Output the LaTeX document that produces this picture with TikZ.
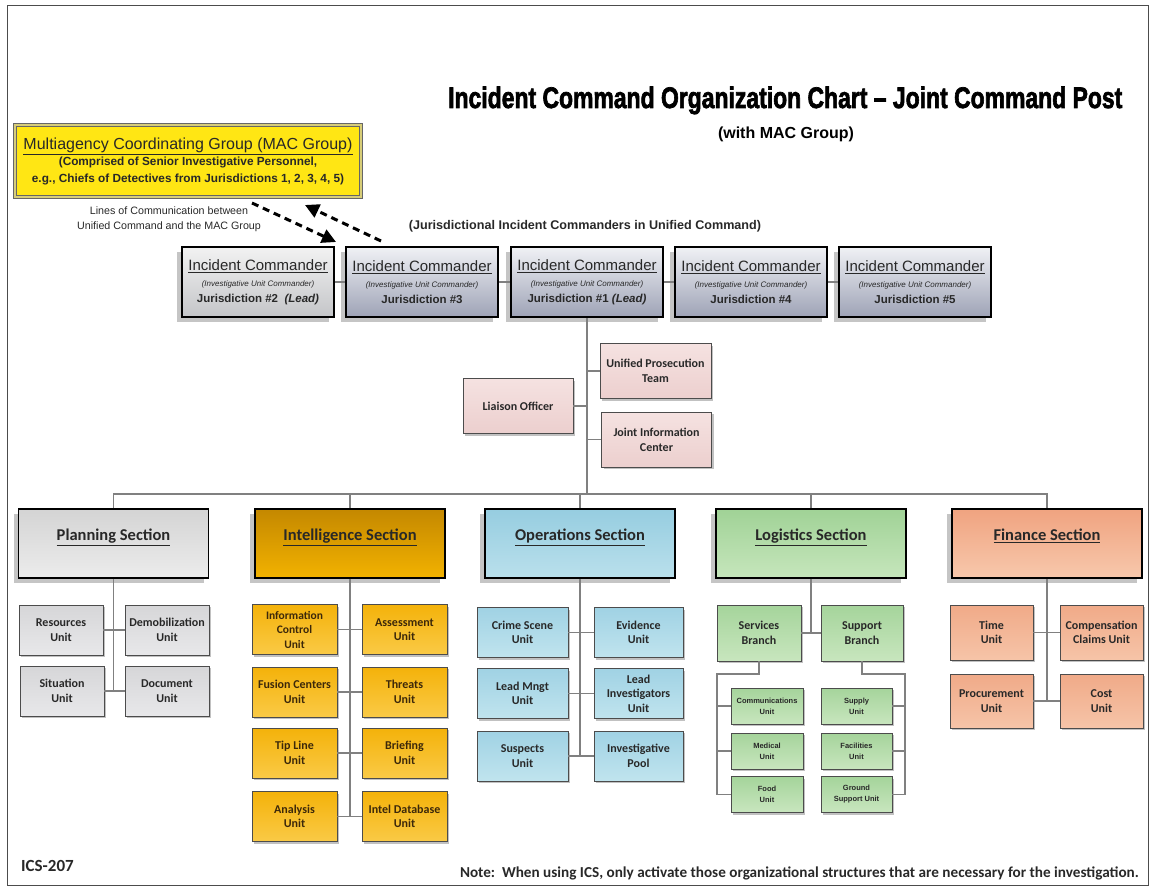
\documentclass[tikz,border=0pt]{standalone}
\usepackage{fontspec}
\setmainfont{Carlito}
\newfontfamily\arialf{Liberation Sans}
\newfontfamily\titlef{Liberation Sans}[BoldFeatures={FakeBold=2.5}]
\usetikzlibrary{arrows.meta,shadows}
\definecolor{icT}{RGB}{240,241,245}
\definecolor{icB}{RGB}{158,163,182}
\definecolor{icLT}{RGB}{242,242,242}
\definecolor{icLB}{RGB}{196,197,200}
\definecolor{macY}{RGB}{255,230,20}
\definecolor{macBand}{RGB}{215,205,120}
\definecolor{pinkT}{RGB}{245,226,225}
\definecolor{pinkB}{RGB}{236,207,206}
\definecolor{plT}{RGB}{212,212,212}
\definecolor{plB}{RGB}{236,236,236}
\definecolor{inT}{RGB}{196,136,0}
\definecolor{inB}{RGB}{242,178,0}
\definecolor{opT}{RGB}{150,205,224}
\definecolor{opB}{RGB}{186,224,236}
\definecolor{loT}{RGB}{160,210,150}
\definecolor{loB}{RGB}{198,230,188}
\definecolor{fiT}{RGB}{240,163,128}
\definecolor{fiB}{RGB}{247,200,172}
\definecolor{puT}{RGB}{214,214,216}
\definecolor{puB}{RGB}{232,232,234}
\definecolor{iuT}{RGB}{244,178,10}
\definecolor{iuB}{RGB}{250,202,70}
\definecolor{ouT}{RGB}{160,210,228}
\definecolor{ouB}{RGB}{192,228,238}
\definecolor{luT}{RGB}{165,212,155}
\definecolor{luB}{RGB}{200,230,190}
\definecolor{fuT}{RGB}{240,170,136}
\definecolor{fuB}{RGB}{246,196,168}
\definecolor{lineC}{RGB}{128,128,128}
\definecolor{txt}{RGB}{40,40,40}
\newcommand\ictext[2]{{\fontsize{15}{16}\selectfont\underline{Incident Commander}}\\{\fontsize{8}{16}\selectfont\itshape (Investigative Unit Commander)}\\{\bfseries Jurisdiction \##1#2}}
\begin{document}
\begin{tikzpicture}[x=1pt,y=-1pt,
  bigshadow/.style={drop shadow={shadow xshift=-5pt,shadow yshift=-5pt,fill=gray!65,opacity=.7}},
  smallshadow/.style={drop shadow={shadow xshift=2pt,shadow yshift=-2pt,fill=gray!70,opacity=.7}},
  ic/.style={rectangle,draw=black,line width=2.6pt,minimum width=152pt,minimum height=70pt,inner sep=0pt,align=center,top color=icT,bottom color=icB,bigshadow,font=\arialf\fontsize{11.5}{16}\selectfont,text=txt},
  sect/.style={rectangle,draw=black,line width=1.8pt,minimum width=190pt,minimum height=69pt,align=center,bigshadow,font=\bfseries\fontsize{16.5}{17}\selectfont,text=txt,text depth=17pt},
  unit/.style={rectangle,draw=black!70,line width=0.9pt,align=center,inner sep=1pt,smallshadow,font=\bfseries\fontsize{12}{14.5}\selectfont,text=txt},
  punit/.style={unit,top color=puT,bottom color=puB,minimum width=84pt,minimum height=50pt},
  iunit/.style={unit,top color=iuT,bottom color=iuB,minimum width=85pt,minimum height=50pt,text={rgb,255:red,60;green,40;blue,10}},
  ounit/.style={unit,top color=ouT,bottom color=ouB,minimum height=50pt},
  lunit/.style={unit,top color=luT,bottom color=luB},
  sunit/.style={lunit,font=\arialf\bfseries\fontsize{7.5}{11}\selectfont,minimum width=72pt,minimum height=36pt},
  funit/.style={unit,top color=fuT,bottom color=fuB,minimum width=83pt,minimum height=55pt},
  pinkbox/.style={unit,top color=pinkT,bottom color=pinkB,minimum width=110pt,minimum height=55pt,font=\bfseries\fontsize{12}{15}\selectfont},
  conn/.style={draw=lineC,line width=1.1pt},
  arr/.style={line width=3pt,dash pattern=on 7pt off 5pt,-{Triangle[length=14pt,width=14pt]}}
]
\useasboundingbox (0,0) rectangle (1151,888);
\draw[black!70,line width=1pt] (7,6) rectangle (1148,885);

% title
\node[anchor=base west,inner sep=0pt] (title) at (448,108) {\resizebox{674pt}{21.5pt}{\titlef\bfseries Incident Command Organization Chart – Joint Command Post}};
\node (sub) at (786,134) {\arialf\bfseries\fontsize{16}{18}\selectfont (with MAC Group)};

% MAC group
\node[rectangle,draw=black!60,line width=0.8pt,double=macBand,double distance=2pt,fill=macY,minimum width=346pt,minimum height=72pt,align=center,inner sep=0pt,font=\arialf\fontsize{11.8}{16.5}\selectfont,text=txt] (mac) at (188,161)
  {{\fontsize{16}{16.5}\selectfont\underline{Multiagency Coordinating Group (MAC Group)}}\\{\bfseries (Comprised of Senior Investigative Personnel,}\\{\bfseries e.g., Chiefs of Detectives from Jurisdictions 1, 2, 3, 4, 5)}};
\node[align=center,font=\arialf\fontsize{10.7}{15}\selectfont,text=txt] (lines) at (169,219) {Lines of Communication between\\Unified Command and the MAC Group};
\node[font=\arialf\bfseries\fontsize{12.6}{14}\selectfont,text=txt] (jur) at (585,226) {(Jurisdictional Incident Commanders in Unified Command)};

% incident commanders
\node[ic,top color=icLT,bottom color=icLB] (ic2) at (258,282) {\ictext{2}{\ \ \textit{(Lead)}}};
\node[ic] (ic3) at (422,282) {\ictext{3}{}};
\node[ic] (ic1) at (587,282) {\ictext{1}{ \textit{(Lead)}}};
\node[ic] (ic4) at (751,282) {\ictext{4}{}};
\node[ic] (ic5) at (915,282) {\ictext{5}{}};
\draw[conn] (ic2.east) -- (ic3.west);
\draw[conn] (ic3.east) -- (ic1.west);
\draw[conn] (ic1.east) -- (ic4.west);
\draw[conn] (ic4.east) -- (ic5.west);

% arrows
\coordinate (a1s) at (252,203); \coordinate (a1e) at (336,242);
\coordinate (a2s) at (381,241); \coordinate (a2e) at (305,205);
\draw[arr] (a1s) -- (a1e);
\draw[arr] (a2s) -- (a2e);

% command staff
\node[pinkbox,minimum width=111pt] (upt) at (655.5,371) {Unified Prosecution\\Team};
\node[pinkbox] (jic) at (656.5,439.5) {Joint Information\\Center};
\node[pinkbox] (lia) at (518,406) {Liaison Officer};
\coordinate (busC) at (587,494);
\draw[conn] (ic1.south) -- (busC);
\draw[conn] (upt.west) -- (upt.west -| busC);
\draw[conn] (jic.west) -- (jic.west -| busC);
\draw[conn] (lia.east) -- (lia.east -| busC);

% sections
\node[sect,top color=plT,bottom color=plB] (plan) at (113.5,543.5) {\underline{Planning Section}};
\node[sect,top color=inT,bottom color=inB] (intel) at (350,543.5) {\underline{Intelligence Section}};
\node[sect,top color=opT,bottom color=opB] (ops) at (580,543.5) {\underline{Operations Section}};
\node[sect,top color=loT,bottom color=loB] (logi) at (811,543.5) {\underline{Logistics Section}};
\node[sect,top color=fiT,bottom color=fiB] (fin) at (1047,543.5) {\underline{Finance Section}};
\draw[conn] (plan.north) |- (busC) -| (fin.north);
\draw[conn] (intel.north) -- (intel.north |- busC);
\draw[conn] (ops.north) -- (ops.north |- busC);
\draw[conn] (logi.north) -- (logi.north |- busC);

% planning units
\node[punit] (res) at (61,630) {Resources\\Unit};
\node[punit] (demob) at (167,630) {Demobilization\\Unit};
\node[punit] (sit) at (62,691) {Situation\\Unit};
\node[punit] (doc) at (167,691) {Document\\Unit};
\draw[conn] (plan.south) -- (plan.south |- sit.east);
\draw[conn] (res.east) -- (demob.west);
\draw[conn] (sit.east) -- (doc.west);

% intelligence units
\node[iunit,font=\bfseries\fontsize{11.5}{14.5}\selectfont] (info) at (294.5,629.5) {Information\\Control\\Unit};
\node[iunit] (assess) at (404.5,629.5) {Assessment\\Unit};
\node[iunit] (fusion) at (294.5,692) {Fusion Centers\\Unit};
\node[iunit] (threat) at (404.5,692) {Threats\\Unit};
\node[iunit] (tip) at (294.5,753) {Tip Line\\Unit};
\node[iunit] (brief) at (404.5,753) {Briefing\\Unit};
\node[iunit] (anal) at (294.5,816.5) {Analysis\\Unit};
\node[iunit] (idb) at (404.5,816.5) {Intel Database\\Unit};
\draw[conn] (intel.south) -- (intel.south |- anal.east);
\draw[conn] (info.east) -- (assess.west);
\draw[conn] (fusion.east) -- (threat.west);
\draw[conn] (tip.east) -- (brief.west);
\draw[conn] (anal.east) -- (idb.west);

% operations units
\node[ounit,minimum width=91pt] (crime) at (522.5,632.5) {Crime Scene\\Unit};
\node[ounit,minimum width=89pt] (evid) at (638.5,632.5) {Evidence\\Unit};
\node[ounit,minimum width=91pt] (leadm) at (522.5,693.5) {Lead Mngt\\Unit};
\node[ounit,minimum width=89pt] (leadi) at (638.5,693.5) {Lead\\Investigators\\Unit};
\node[ounit,minimum width=91pt] (susp) at (522.5,756) {Suspects\\Unit};
\node[ounit,minimum width=89pt] (pool) at (638.5,756) {Investigative\\Pool};
\draw[conn] (ops.south) -- (ops.south |- susp.east);
\draw[conn] (crime.east) -- (evid.west);
\draw[conn] (leadm.east) -- (leadi.west);
\draw[conn] (susp.east) -- (pool.west);

% logistics
\node[lunit,minimum width=84pt,minimum height=56pt] (svc) at (759,633) {Services\\Branch};
\node[lunit,minimum width=82pt,minimum height=56pt] (sup) at (862,633) {Support\\Branch};
\draw[conn] (logi.south) -- (logi.south |- svc.east);
\draw[conn] (svc.east) -- (sup.west);
\node[sunit] (comm) at (767,706) {Communications\\Unit};
\node[sunit] (med) at (767,751) {Medical\\Unit};
\node[sunit] (food) at (767,794.5) {Food\\Unit};
\node[sunit,minimum width=71pt] (supply) at (856.5,706) {Supply\\Unit};
\node[sunit,minimum width=71pt] (fac) at (856.5,751) {Facilities\\Unit};
\node[sunit,minimum width=71pt] (ground) at (856.5,794.5) {Ground\\Support Unit};
\coordinate (lrail) at (717,674);
\coordinate (rrail) at (905,674);
\draw[conn] (svc.south) |- (lrail) -- (lrail |- food.west) -- (food.west);
\draw[conn] (comm.west) -- (comm.west -| lrail);
\draw[conn] (med.west) -- (med.west -| lrail);
\draw[conn] (sup.south) |- (rrail) -- (rrail |- ground.east) -- (ground.east);
\draw[conn] (supply.east) -- (supply.east -| rrail);
\draw[conn] (fac.east) -- (fac.east -| rrail);

% finance
\node[funit] (time) at (991.5,632.5) {Time\\Unit};
\node[funit] (comp) at (1101.5,632.5) {Compensation\\Claims Unit};
\node[funit,minimum height=54pt] (proc) at (991.5,701) {Procurement\\Unit};
\node[funit,minimum height=54pt] (cost) at (1101.5,701) {Cost\\Unit};
\draw[conn] (fin.south) -- (fin.south |- proc.east);
\draw[conn] (time.east) -- (comp.west);
\draw[conn] (proc.east) -- (cost.west);

% footer
\node[anchor=west,inner sep=0pt,text=txt] (ics) at (21,866) {\bfseries\fontsize{17}{19}\selectfont ICS-207};
\node[anchor=east,inner sep=0pt,text=txt] (note) at (1139,873) {\bfseries\fontsize{15.2}{17}\selectfont Note:\ \ When using ICS, only activate those organizational structures that are necessary for the investigation.};
\end{tikzpicture}
\end{document}
